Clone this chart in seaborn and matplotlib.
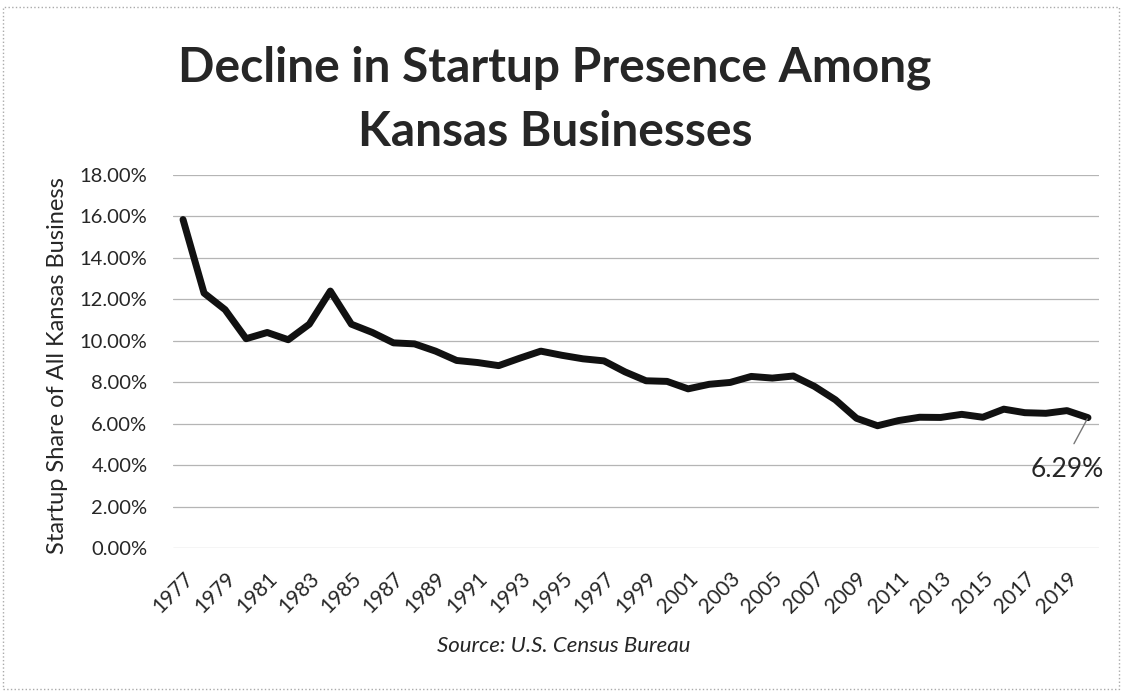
import numpy as np
import pandas as pd
import seaborn as sns
import matplotlib.pyplot as plt
from matplotlib.patches import Rectangle

# Startup share of all Kansas businesses (percent)
years = list(range(1977, 2021))
startup_share = [15.85, 12.3, 11.5, 10.1, 10.4, 10.05, 10.8, 12.4, 10.8, 10.4,
                 9.9, 9.85, 9.5, 9.05, 8.95, 8.8, 9.16, 9.5, 9.3, 9.13,
                 9.03, 8.5, 8.07, 8.04, 7.68, 7.9, 7.99, 8.28, 8.2, 8.3,
                 7.8, 7.15, 6.26, 5.9, 6.15, 6.31, 6.3, 6.45, 6.31, 6.7,
                 6.53, 6.5, 6.63, 6.29]
tick_years = list(range(1977, 2020, 2))
y_ticks = list(range(0, 19, 2))

df = pd.DataFrame({'year': years, 'share': startup_share})

sns.set_style('white')
plt.rcParams['font.family'] = ['Lato', 'DejaVu Sans']

fig = plt.figure(figsize=(11.23, 6.92), dpi=100)
ax = fig.add_axes([172.5 / 1123, 1 - 548 / 692, 926 / 1123, 373 / 692])

# gridlines first so the line sits on top
for t in y_ticks:
    ax.axhline(t, color='#b5b5b5', lw=0.9, zorder=1)

sns.lineplot(data=df, x='year', y='share', color='#111111', lw=5, ax=ax,
             zorder=3)

ax.set_xlim(1976.5, 2020.5)
ax.set_ylim(0, 18)
ax.set_yticks(y_ticks)
ax.set_yticklabels([f'{t:.2f}%' for t in y_ticks], fontsize=14.5)
ax.set_xticks(tick_years)
ax.set_xticklabels([str(y) for y in tick_years], rotation=45, ha='right',
                   rotation_mode='anchor', fontsize=15)
ax.tick_params(axis='y', length=0, pad=18)
ax.tick_params(axis='x', length=0, pad=15)
for s in ax.spines.values():
    s.set_visible(False)
ax.set_xlabel('')
ax.set_ylabel('Startup Share of All Kansas Business', fontsize=17)
ax.yaxis.set_label_coords((68 - 172.5) / 926, (548 - 366) / 373)

# last value callout
last_year, last_val = years[-1], startup_share[-1]
ax.annotate(f'{last_val:.2f}%', xy=(last_year, last_val),
            xytext=(2019.0, 3.8), fontsize=19, ha='center', va='center',
            arrowprops=dict(arrowstyle='-', color='#777777', lw=1,
                            relpos=(0.5, 1.0), shrinkA=8, shrinkB=1))

fig.text(0.494, 1 - 68 / 692, 'Decline in Startup Presence Among',
         ha='center', va='center', fontsize=34.5, fontweight='bold')
fig.text(0.494, 1 - 132 / 692, 'Kansas Businesses',
         ha='center', va='center', fontsize=34.5, fontweight='bold')
fig.text(564 / 1123, 1 - 646 / 692, 'Source: U.S. Census Bureau',
         ha='center', va='center', fontsize=16, style='italic')

# chart border
fig.patches.append(Rectangle((3 / 1123, 3 / 692), 1116 / 1123, 682 / 692,
                             transform=fig.transFigure, fill=False,
                             edgecolor='#aaaaaa', lw=1, ls=':'))

fig.savefig('out.png', dpi=100, facecolor='white')
